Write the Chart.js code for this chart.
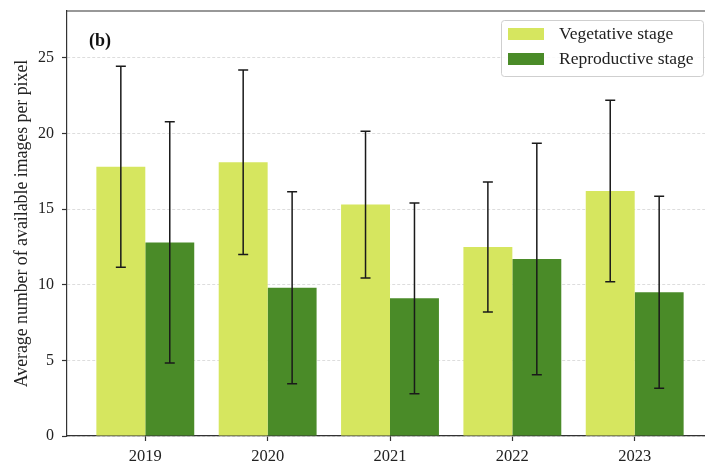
<!DOCTYPE html>
<html><head><meta charset="utf-8">
<script src="https://cdn.jsdelivr.net/npm/chart.js@4.4.0/dist/chart.umd.min.js"></script>
<style>html,body{margin:0;padding:0;background:#fff;overflow:hidden}canvas{display:block}</style>
</head><body>
<canvas id="c" width="720" height="463"></canvas>
<script>
// === Data ===
const YEARS   = ['2019','2020','2021','2022','2023'];
const VEG     = [17.8, 18.1, 15.3, 12.5, 16.2];
const VEG_SD  = [6.65, 6.1, 4.85, 4.3, 6.0];
const REP     = [12.8, 9.8, 9.1, 11.7, 9.5];
const REP_SD  = [7.97, 6.35, 6.3, 7.65, 6.35];
const Y_TICKS = [0, 5, 10, 15, 20, 25];
const LABELS  = ['Vegetative stage', 'Reproductive stage'];
const COLORS  = ['#d6e65f', '#4a8b28'];
const PANEL   = '(b)';

const SERIF = "'Liberation Serif','DejaVu Serif',serif";
Chart.defaults.font.family = SERIF;
Chart.defaults.color = '#222';

// === Plugins ===
const errorBars = {
  id:'errorBars',
  afterDatasetsDraw(chart){
    const {ctx, scales:{y}} = chart;
    ctx.save(); ctx.strokeStyle='#1a1a1a'; ctx.lineWidth=1.5;
    chart.data.datasets.forEach((ds,i)=>{
      const meta = chart.getDatasetMeta(i);
      meta.data.forEach((bar,j)=>{
        const v = ds.data[j].y, e = ds.sd[j];
        const y1 = y.getPixelForValue(v+e), y2 = y.getPixelForValue(v-e), x = bar.x;
        ctx.beginPath();
        ctx.moveTo(x,y1); ctx.lineTo(x,y2);
        ctx.moveTo(x-5,y1); ctx.lineTo(x+5,y1);
        ctx.moveTo(x-5,y2); ctx.lineTo(x+5,y2);
        ctx.stroke();
      });
    });
    ctx.restore();
  }
};

const frame = {
  id:'frame',
  afterDraw(chart){
    const {ctx, chartArea:a} = chart;
    ctx.save();
    ctx.strokeStyle='#333'; ctx.lineWidth=1.2;
    ctx.beginPath(); ctx.moveTo(a.left,a.top); ctx.lineTo(a.right,a.top); ctx.lineTo(a.right,a.bottom); ctx.stroke();
    // panel letter
    ctx.fillStyle='#111'; ctx.font=`bold 18px ${SERIF}`; ctx.textBaseline='middle'; ctx.textAlign='left';
    ctx.fillText(PANEL, a.left+22, a.top+30);
    // legend box
    const bx=a.right-212, by=a.top+9, bw=202, bh=56;
    ctx.fillStyle='rgba(255,255,255,0.85)'; ctx.strokeStyle='#cfcfcf'; ctx.lineWidth=1;
    ctx.beginPath(); ctx.roundRect(bx+0.5,by+0.5,bw,bh,3); ctx.fill(); ctx.stroke();
    ctx.font=`17.5px ${SERIF}`;
    chart.data.datasets.forEach((ds,i)=>{
      const cy = by+14+i*25;
      ctx.fillStyle=ds.backgroundColor; ctx.fillRect(bx+7, cy-6, 36, 12);
      ctx.fillStyle='#222'; ctx.fillText(ds.label, bx+58, cy);
    });
    ctx.restore();
  }
};

// === Chart ===
const mk = (vals)=>vals.map((v,i)=>({x:i,y:v}));
new Chart(document.getElementById('c'), {
  type:'bar',
  data:{ datasets:[
    {label:LABELS[0], data:mk(VEG), sd:VEG_SD, backgroundColor:COLORS[0], categoryPercentage:0.8, barPercentage:1},
    {label:LABELS[1], data:mk(REP), sd:REP_SD, backgroundColor:COLORS[1], categoryPercentage:0.8, barPercentage:1}
  ]},
  options:{
    responsive:false, animation:false,
    layout:{padding:{top:11, right:7, left:0, bottom:0}},
    plugins:{legend:{display:false}, tooltip:{enabled:false}},
    scales:{
      x:{ type:'linear', min:-0.64, max:4.64, offset:false,
        afterBuildTicks:s=>{ s.ticks = YEARS.map((_,i)=>({value:i})); },
        afterFit:s=>{ s.height = 27; s.paddingLeft = 0; s.paddingRight = 0; },
        ticks:{ callback:v=>YEARS[v], font:{size:16.5}, color:'#222', padding:6, maxRotation:0, autoSkip:false },
        grid:{ offset:false, drawOnChartArea:false, drawTicks:true, tickLength:5, tickColor:'#333', tickWidth:1.2 },
        border:{ color:'#333', width:1.2 }
      },
      y:{ min:0, max:28.1,
        afterBuildTicks:s=>{ s.ticks = Y_TICKS.map(v=>({value:v})); },
        afterFit:s=>{ s.width = 67; s.paddingTop = 0; s.paddingBottom = 0; },
        ticks:{ font:{size:16}, color:'#222', padding:8 },
        grid:{ color:'#d4d4d4', lineWidth:0.8, tickLength:5, tickColor:'#333', tickWidth:1.2 },
        border:{ color:'#333', width:1.2, dash:[3,2] },
        title:{ display:true, text:'Average number of available images per pixel', font:{size:17.8}, color:'#222', padding:{top:12,bottom:0} }
      }
    }
  },
  plugins:[errorBars, frame]
});
</script>
</body></html>
